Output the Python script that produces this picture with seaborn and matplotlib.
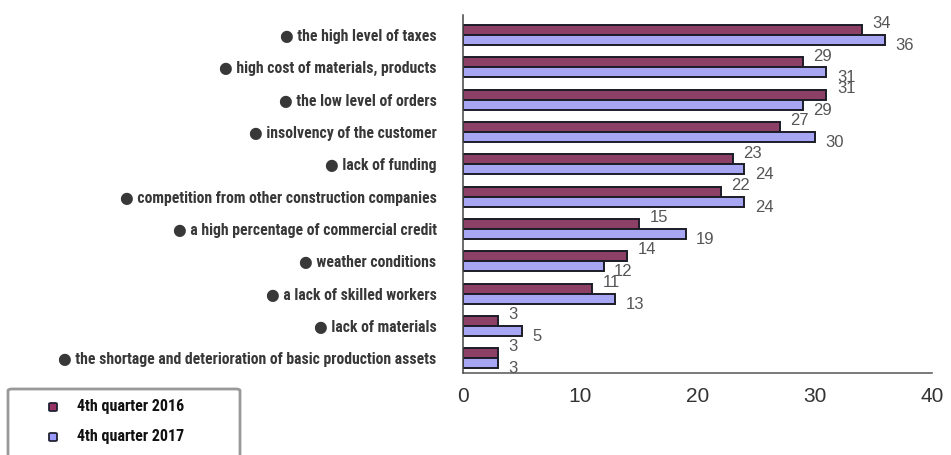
import matplotlib
matplotlib.use("Agg")
import matplotlib.pyplot as plt
from matplotlib import font_manager
from matplotlib.patches import FancyBboxPatch
import seaborn as sns
import pandas as pd

categories = [
    "the high level of taxes",
    "high cost of materials, products",
    "the low level of orders",
    "insolvency of the customer",
    "lack of funding",
    "competition from other construction companies",
    "a high percentage of commercial credit",
    "weather conditions",
    "a lack of skilled workers",
    "lack of materials",
    "the shortage and deterioration of basic production assets",
]
periods = ["4th quarter 2016", "4th quarter 2017"]
q4_2016 = [34, 29, 31, 27, 23, 22, 15, 14, 11, 3, 3]
q4_2017 = [36, 31, 29, 30, 24, 24, 19, 12, 13, 5, 3]
x_ticks = [0, 10, 20, 30, 40]

colors = ["#993366", "#9999FF"]
edge = "#1c1c28"


def pick_family(names, default="DejaVu Sans"):
    for n in names:
        try:
            font_manager.findfont(n, fallback_to_default=False)
            return n
        except Exception:
            continue
    return default


narrow = pick_family(["Liberation Sans Narrow", "Roboto Condensed", "Roboto"])
plain = pick_family(["Liberation Sans", "Arimo"])

sns.set_theme(style="white")
plt.rcParams["font.family"] = [plain, "DejaVu Sans"]

df = pd.DataFrame({
    "category": categories * 2,
    "period": [periods[0]] * len(categories) + [periods[1]] * len(categories),
    "value": q4_2016 + q4_2017,
})

fig = plt.figure(figsize=(9.51, 4.55), dpi=100)
ax = fig.add_axes([463 / 951, 1 - 373 / 455, (932 - 463) / 951, (373 - 15) / 455])

sns.barplot(
    data=df, y="category", x="value", hue="period", orient="h",
    order=categories, hue_order=periods, palette=colors,
    width=0.62, edgecolor=edge, linewidth=1.4, legend=False, ax=ax,
)

ax.set_xlim(0, 40)
ax.set_ylim(10.46, -0.62)
ax.set_xticks(x_ticks)
ax.set_xticklabels([str(t) for t in x_ticks], fontsize=15, color="#333333")
ax.tick_params(axis="x", direction="inout", length=8, width=1, color="#555555", pad=6)
ax.tick_params(axis="y", length=0, pad=19)
ax.set_yticks(range(len(categories)))
ax.set_yticklabels(["\u25cf " + c for c in categories])
label_font = font_manager.FontProperties(family=[narrow, "DejaVu Sans"], weight="bold", size=11.3)
for lbl in ax.get_yticklabels():
    lbl.set_fontproperties(label_font)
    lbl.set_color("#383838")
ax.set_xlabel("")
ax.set_ylabel("")
for s in ["top", "right"]:
    ax.spines[s].set_visible(False)
ax.spines["left"].set_color("#444444")
ax.spines["bottom"].set_color("#555555")
ax.spines["left"].set_linewidth(1.1)
ax.spines["bottom"].set_linewidth(1.1)

# value labels next to each bar end: 2016 raised, 2017 lowered
offsets = [(7.5, 4.5), (7.5, -4.0)]
for container, (dx, dy) in zip(ax.containers, offsets):
    for bar in container:
        w = bar.get_width()
        yc = bar.get_y() + bar.get_height() / 2
        ax.annotate(f"{w:g}", (w, yc), xytext=(dx, dy), textcoords="offset points",
                    ha="left", va="center", fontsize=12, color="#555555")

# legend box in the lower-left corner
frame = FancyBboxPatch((8 / 951, -0.05), (240 - 8) / 951, 0.05 + (455 - 389) / 455,
                       boxstyle="round,pad=0,rounding_size=0.004",
                       transform=fig.transFigure, facecolor="white",
                       edgecolor="#999999", linewidth=2, clip_on=False)
fig.add_artist(frame)
leg_font = font_manager.FontProperties(family=[narrow, "DejaVu Sans"], weight="bold", size=11.5)
sw, sh = 8 / 951, 8 / 455
for i, (p, c) in enumerate(zip(periods, colors)):
    y = 1 - (407 + 30 * i) / 455
    swatch = FancyBboxPatch((53 / 951 - sw / 2, y - sh / 2), sw, sh,
                            boxstyle="round,pad=0,rounding_size=0.002",
                            transform=fig.transFigure, facecolor=c,
                            edgecolor="#222233", linewidth=1.3)
    fig.add_artist(swatch)
    fig.text(77 / 951, y, p, ha="left", va="center", fontproperties=leg_font, color="#111111")

fig.savefig("out.png", dpi=100)
